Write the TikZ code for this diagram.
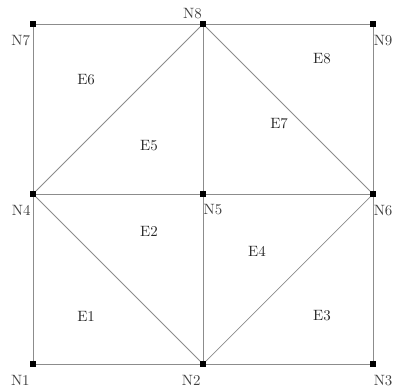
\documentclass[tikz,border=0pt]{standalone}
\usepackage{tikz}
\usetikzlibrary{positioning}

\begin{document}
\begin{tikzpicture}[
    mnode/.style={
      rectangle, fill=black, inner sep=0pt,
      minimum size=3.5pt
    },
    nlabel/.style={font=\normalsize, text=black!75, inner sep=0pt},
    elabel/.style={font=\normalsize, text=black!85},
    edge/.style={draw=black!45, line width=0.5pt}
  ]
  \useasboundingbox (-0.776,-0.588) rectangle (8.47,8.564);

  % Mesh nodes
  \node[mnode] (n1) at (0,0) {};
  \node[mnode] (n2) at (4,0) {};
  \node[mnode] (n3) at (8,0) {};
  \node[mnode] (n4) at (0,4) {};
  \node[mnode] (n5) at (4,4) {};
  \node[mnode] (n6) at (8,4) {};
  \node[mnode] (n7) at (0,8) {};
  \node[mnode] (n8) at (4,8) {};
  \node[mnode] (n9) at (8,8) {};

  % Node numbers
  \node[nlabel, anchor=north east] (l1) at ([shift={(-0.07,-0.27)}]n1) {N1};
  \node[nlabel, anchor=north east] (l2) at ([shift={(-0.05,-0.27)}]n2) {N2};
  \node[nlabel, anchor=north west] (l3) at ([shift={(0.01,-0.27)}]n3) {N3};
  \node[nlabel, anchor=north east] (l4) at ([shift={(-0.05,-0.26)}]n4) {N4};
  \node[nlabel, anchor=north west] (l5) at ([shift={(0.01,-0.24)}]n5) {N5};
  \node[nlabel, anchor=north west] (l6) at ([shift={(0.01,-0.26)}]n6) {N6};
  \node[nlabel, anchor=north east] (l7) at ([shift={(-0.06,-0.26)}]n7) {N7};
  \node[nlabel, anchor=south east] (l8) at ([shift={(-0.02,0.12)}]n8) {N8};
  \node[nlabel, anchor=north west] (l9) at ([shift={(0.01,-0.26)}]n9) {N9};

  % Element labels
  \node[elabel] (e1) at (1.25,1.13) {E1};
  \node[elabel] (e2) at (2.73,3.13) {E2};
  \node[elabel] (e3) at (6.80,1.13) {E3};
  \node[elabel] (e4) at (5.27,2.66) {E4};
  \node[elabel] (e5) at (2.73,5.15) {E5};
  \node[elabel] (e6) at (1.25,6.68) {E6};
  \node[elabel] (e7) at (5.79,5.65) {E7};
  \node[elabel] (e8) at (6.80,7.18) {E8};

  % Element edges
  \draw[edge] (n1) -- (n2) -- (n3) -- (n6) -- (n9) -- (n8) -- (n7) -- (n4) -- (n1);
  \draw[edge] (n4) -- (n5) -- (n6);
  \draw[edge] (n2) -- (n5) -- (n8);
  \draw[edge] (n4) -- (n2) -- (n6) -- (n8) -- (n4);

  % Node markers on top
  \foreach \n in {n1,n2,n3,n4,n5,n6,n7,n8,n9}
    \fill (\n.south west) rectangle (\n.north east);

\end{tikzpicture}
\end{document}
